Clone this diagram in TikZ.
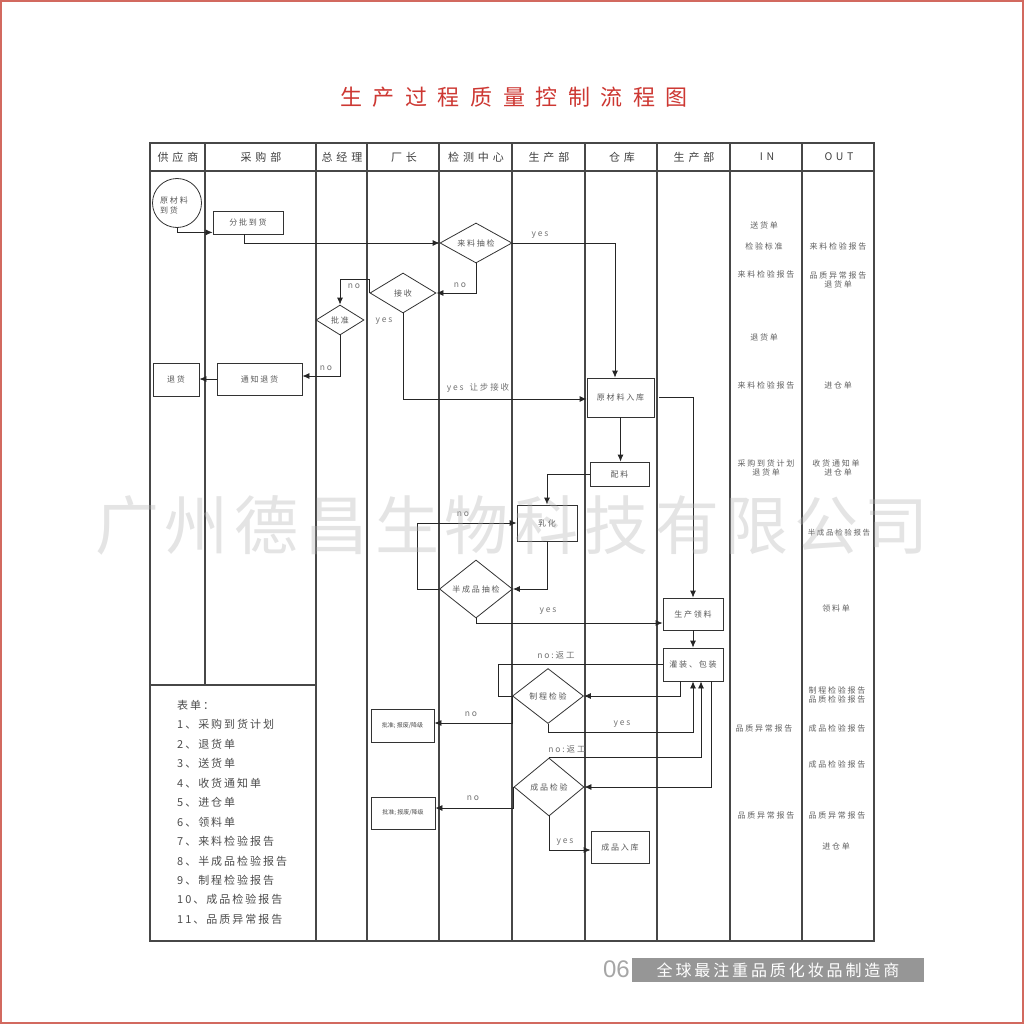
\documentclass[tikz,border=0pt]{standalone}
\usepackage{fontspec}
\setmainfont{Noto Sans CJK SC}
\usetikzlibrary{arrows.meta,shapes.geometric}
\newfontfamily\fnode[LetterSpace=22]{Noto Sans CJK SC}
\newfontfamily\fhdr[LetterSpace=35]{Noto Sans CJK SC}
\newfontfamily\ftitle[LetterSpace=48]{Noto Sans CJK SC}
\newfontfamily\flegend[LetterSpace=18]{Noto Sans CJK SC}
\newfontfamily\fbar[LetterSpace=18]{Noto Sans CJK SC}
\newfontfamily\fplain{Noto Sans CJK SC}
\newfontfamily\fnum{Liberation Sans}
\definecolor{titlered}{RGB}{205,55,50}
\definecolor{borderred}{RGB}{210,105,95}
\definecolor{bargray}{RGB}{150,150,150}
\tikzset{
  every node/.style={inner sep=0pt},
  frameline/.style={draw=black!72, line width=1.2pt},
  box/.style={draw=black!80, line width=0.8pt, font=\fnode\fontsize{8}{9}\selectfont, text=black!65},
  dia/.style={diamond, draw=black!80, line width=0.8pt, font=\fnode\fontsize{8}{9}\selectfont, text=black!65, aspect=1.8},
  arr/.style={draw=black!85, line width=0.8pt, -{Latex[length=7pt,width=6pt]}},
  link/.style={draw=black!85, line width=0.8pt},
  lab/.style={font=\fnode\fontsize{8.5}{9}\selectfont, text=black!55},
  io/.style={font=\fnode\fontsize{8}{9.5}\selectfont, text=black!62},
  hdr/.style={font=\fhdr\fontsize{11}{12}\selectfont, text=black!75},
  legend/.style={font=\flegend\fontsize{11}{12}\selectfont, text=black!70, anchor=west},
  tiny/.style={draw=black!80, line width=0.8pt, font=\fplain\fontsize{6}{7}\selectfont, text=black!70}
}
\begin{document}
\begin{tikzpicture}[x=1pt,y=-1pt]
\useasboundingbox (0,0) rectangle (1024,1024);
\fill[white] (0,0) rectangle (1024,1024);
\draw[borderred, line width=2pt] (1,1) rectangle (1023,1023);

% title
\node[font=\ftitle\fontsize{22}{24}\selectfont, text=titlered] (title) at (514,97) {生产过程质量控制流程图};

% table frame
\draw[frameline] (150,143) rectangle (874,941);
\draw[frameline] (150,171) -- (874,171);
\draw[frameline] (205,143) -- (205,685);
\draw[frameline] (150,685) -- (316,685);
\foreach \x in {316,367,439,512,585,657,730,802}
  \draw[frameline] (\x,143) -- (\x,941);

% headers
\node[hdr] (h1) at (178,157) {供应商};
\node[hdr] (h2) at (261,157) {采购部};
\node[hdr] (h3) at (342,157) {总经理};
\node[hdr] (h4) at (404,157) {厂长};
\node[hdr] (h5) at (476,157) {检测中心};
\node[hdr] (h6) at (549,157) {生产部};
\node[hdr] (h7) at (622,157) {仓库};
\node[hdr] (h8) at (694,157) {生产部};
\node[hdr, font=\fhdr\fontsize{10.5}{12}\selectfont] (h9) at (767,157) {IN};
\node[hdr, font=\fhdr\fontsize{10.5}{12}\selectfont] (h10) at (839,157) {OUT};

% nodes
\node[circle, draw=black!80, line width=0.8pt, minimum size=49pt] (raw) at (177,203) {};
\node[font=\fnode\fontsize{8}{10}\selectfont, text=black!65, align=left] (rawt) at (174,205) {原材料\\到货};
\node[box, minimum width=70pt, minimum height=23pt] (fenpi) at (248,222.5) {分批到货};
\node[dia, minimum width=72pt, minimum height=40pt] (llcj) at (476,243) {来料抽检};
\node[dia, minimum width=66pt, minimum height=40pt] (js) at (403,293) {接收};
\node[dia, minimum width=48pt, minimum height=30pt, aspect=1.6] (pz) at (340,320) {批准};
\node[box, minimum width=85pt, minimum height=32pt] (tz) at (259.5,379) {通知退货};
\node[box, minimum width=46pt, minimum height=33pt] (th) at (176,379.5) {退货};
\node[box, minimum width=67pt, minimum height=39pt] (ycl) at (620.5,397.5) {原材料入库};
\node[box, minimum width=59pt, minimum height=24pt] (pl) at (619.5,474) {配料};
\node[box, minimum width=60pt, minimum height=36pt] (rh) at (547,523) {乳化};
\node[dia, minimum width=73pt, minimum height=58pt] (bcp) at (476,589) {半成品抽检};
\node[box, minimum width=60pt, minimum height=32pt] (scll) at (693,614) {生产领料};
\node[box, minimum width=60pt, minimum height=33pt] (gz) at (693,664.5) {灌装、包装};
\node[dia, minimum width=71pt, minimum height=55pt] (zc) at (548,696) {制程检验};
\node[tiny, minimum width=63pt, minimum height=33pt] (b1) at (402.5,725.5) {批准; 报废/降级};
\node[dia, minimum width=70pt, minimum height=58pt] (cp) at (549,787) {成品检验};
\node[tiny, minimum width=64pt, minimum height=32pt] (b2) at (403,813) {批准; 报废/降级};
\node[box, minimum width=58pt, minimum height=32pt] (cprk) at (620,847) {成品入库};

% connectors
\draw[arr] (raw.south) |- ([yshift=2pt]fenpi.south west);
\draw[arr] ([xshift=-4pt]fenpi.south) |- (llcj.west);
\draw[arr] (llcj.east) -| ([xshift=-5.5pt]ycl.north);
\draw[arr] (llcj.south) |- (js.east);
\draw[arr] (js.west) -- ++(0,-14) -| (pz.north);
\draw[arr] (pz.south) |- ([yshift=3pt]tz.east);
\draw[arr] (tz.west) -- (th.east |- tz.west);
\draw[arr] (js.south) |- ([yshift=-1.5pt]ycl.west);
\draw[arr] ([xshift=5pt]ycl.east) -| (scll.north);
\draw[arr] (ycl.south) -- (ycl.south |- pl.north);
\draw[arr] (pl.west) -| (rh.north);
\draw[arr] (rh.south) |- (bcp.east);
\draw[arr] (bcp.west) -- ++(-22,0) |- (rh.west);
\draw[arr] (bcp.south) |- ([yshift=-9pt]scll.west);
\draw[arr] (scll.south) -- (gz.north);
\draw[arr] ([xshift=-13pt]gz.south) |- (zc.east);
\draw[link] (zc.west) -- ++(-14,0) |- (gz.west);
\draw[arr] (zc.south) -- ++(0,8) -| (gz.south);
\draw[arr] (zc.west) |- ([yshift=2.5pt]b1.east);
\draw[arr] ([xshift=18pt]gz.south) |- (cp.east);
\draw[arr] (cp.north) -| ([xshift=8pt]gz.south);
\draw[arr] (cp.west) |- ([yshift=5pt]b2.east);
\draw[arr] (cp.south) |- ([yshift=-3pt]cprk.west);

% connector labels
\node[lab] (l1) at (540,235) {yes};
\node[lab] (l2) at (460,285) {no};
\node[lab] (l3) at (354,286) {no};
\node[lab] (l4) at (384,321) {yes};
\node[lab] (l5) at (326,368) {no};
\node[lab] (l6) at (478,388) {yes\hspace{6pt}让步接收};
\node[lab] (l7) at (463,514) {no};
\node[lab] (l8) at (548,611) {yes};
\node[lab] (l9) at (556,655) {no:返工};
\node[lab] (l10) at (622,724) {yes};
\node[lab] (l11) at (471,714) {no};
\node[lab] (l12) at (567,749) {no:返工};
\node[lab] (l13) at (473,798) {no};
\node[lab] (l14) at (565,842) {yes};

% IN column
\node[io] (i1) at (764,225) {送货单};
\node[io] (i2) at (764,246) {检验标准};
\node[io] (i3) at (766,274) {来料检验报告};
\node[io] (i4) at (764,337) {退货单};
\node[io] (i5) at (766,385) {来料检验报告};
\node[io, align=center] (i6) at (766,468) {采购到货计划\\退货单};
\node[io] (i7) at (764,728) {品质异常报告};
\node[io] (i8) at (766,815) {品质异常报告};

% OUT column
\node[io] (o1) at (838,246) {来料检验报告};
\node[io, align=center] (o2) at (838,280) {品质异常报告\\退货单};
\node[io] (o3) at (838,385) {进仓单};
\node[io, align=center] (o4) at (836,468) {收货通知单\\\hspace{4pt}进仓单};
\node[io, font=\fnode\fontsize{7.5}{9}\selectfont] (o5) at (839,533) {半成品检验报告};
\node[io] (o6) at (836,608) {领料单};
\node[io, align=center] (o7) at (837,695) {制程检验报告\\品质检验报告};
\node[io] (o8) at (837,728) {成品检验报告};
\node[io] (o9) at (837,764) {成品检验报告};
\node[io] (o10) at (837,815) {品质异常报告};
\node[io] (o11) at (836,846) {进仓单};

% legend
\node[legend] (lg0) at (177,705) {表单：};
\node[legend] (lg1) at (177,724) {1、采购到货计划};
\node[legend] (lg2) at (177,744) {2、退货单};
\node[legend] (lg3) at (177,763) {3、送货单};
\node[legend] (lg4) at (177,783) {4、收货通知单};
\node[legend] (lg5) at (177,802) {5、进仓单};
\node[legend] (lg6) at (177,822) {6、领料单};
\node[legend] (lg7) at (177,841) {7、来料检验报告};
\node[legend] (lg8) at (177,861) {8、半成品检验报告};
\node[legend] (lg9) at (177,880) {9、制程检验报告};
\node[legend] (lg10) at (177,899) {10、成品检验报告};
\node[legend] (lg11) at (177,919) {11、品质异常报告};

% bottom bar
\node[font=\fnum\fontsize{24}{26}\selectfont, text=black!35, anchor=east] (num) at (630,969) {06};
\fill[bargray] (632,958) rectangle (924,982);
\node[font=\fbar\fontsize{16}{18}\selectfont, text=white] (slogan) at (778,970) {全球最注重品质化妆品制造商};

% watermark
\node[font=\fplain\fontsize{64}{66}\selectfont, text=black!30, opacity=0.35] (wm) at (512,525) {广\hspace{6pt}州\hspace{6pt}德\hspace{6pt}昌\hspace{6pt}生\hspace{6pt}物\hspace{6pt}科\hspace{6pt}技\hspace{6pt}有\hspace{6pt}限\hspace{6pt}公\hspace{6pt}司};
\end{tikzpicture}
\end{document}
